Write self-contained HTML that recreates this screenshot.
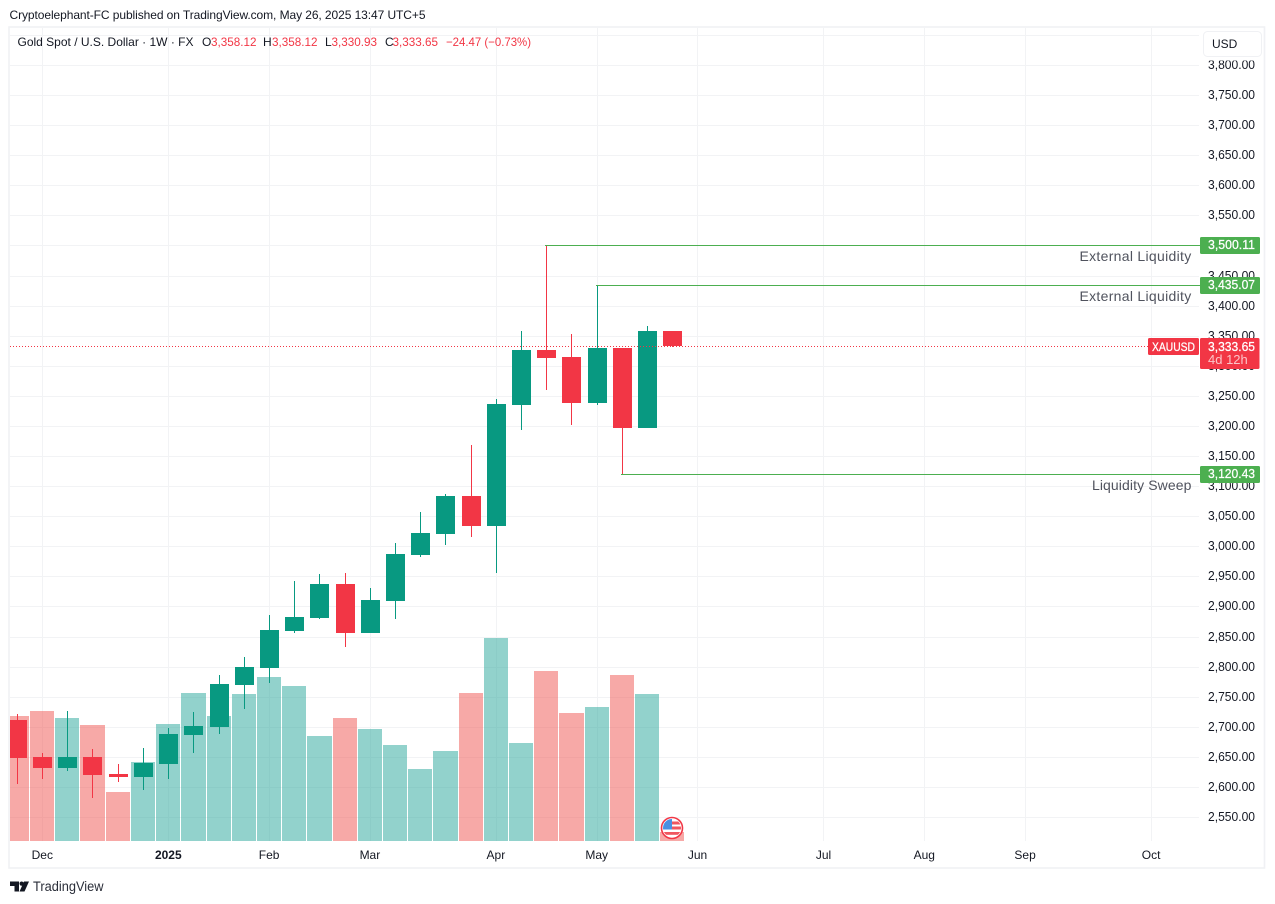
<!DOCTYPE html>
<html lang="en">
<head>
<meta charset="utf-8">
<title>Gold Spot / U.S. Dollar Weekly Chart</title>
<style>
html,body{margin:0;padding:0;background:#fff;width:1275px;height:904px;overflow:hidden}
svg{display:block}
text{font-family:"Liberation Sans",sans-serif;font-size:12px;fill:#131722}
</style>
</head>
<body>
<svg id="chart" width="1275" height="904" viewBox="0 0 1275 904" xmlns="http://www.w3.org/2000/svg">
  <defs>
    <clipPath id="pane-clip"><rect x="10" y="28" width="1189" height="813"/></clipPath>
    <clipPath id="flag-clip"><circle cx="672" cy="828" r="9"/></clipPath>
  </defs>
  <rect x="0" y="0" width="1275" height="904" fill="#ffffff"/>
  <text x="9.5" y="19" textLength="416" lengthAdjust="spacing" fill="#131722">Cryptoelephant-FC published on TradingView.com, May 26, 2025 13:47 UTC+5</text>
  <g id="grid"></g>
  <g id="volumes" clip-path="url(#pane-clip)"></g>
  <g id="candles" clip-path="url(#pane-clip)"></g>
  <g id="last-line"></g>
  <g id="levels"></g>
  <g id="y-axis"></g>
  <g id="x-axis"></g>
  <g id="level-labels"></g>
  <g id="last-label"></g>

  <rect x="9" y="27" width="1255.5" height="841" fill="none" stroke="#f0f1f4" stroke-width="1.6"/>

  <g>
    <text x="17.5" y="46" textLength="176" lengthAdjust="spacing">Gold Spot / U.S. Dollar · 1W · FX</text>
    <text x="202" y="46">O</text>
    <text x="211" y="46" textLength="45.5" lengthAdjust="spacingAndGlyphs" style="fill:#f23645">3,358.12</text>
    <text x="263" y="46">H</text>
    <text x="272" y="46" textLength="45.5" lengthAdjust="spacingAndGlyphs" style="fill:#f23645">3,358.12</text>
    <text x="325" y="46">L</text>
    <text x="331.5" y="46" textLength="45.5" lengthAdjust="spacingAndGlyphs" style="fill:#f23645">3,330.93</text>
    <text x="385" y="46">C</text>
    <text x="392.5" y="46" textLength="45.5" lengthAdjust="spacingAndGlyphs" style="fill:#f23645">3,333.65</text>
    <text x="446" y="46" textLength="85" lengthAdjust="spacingAndGlyphs" style="fill:#f23645">−24.47 (−0.73%)</text>
  </g>

  <rect x="1203" y="30" width="59" height="30.6" fill="#ffffff"/>
  <rect x="1203.5" y="31.5" width="58" height="25" rx="4" fill="#ffffff" stroke="#f0f1f4"/>
  <text x="1212" y="48">USD</text>

  <g>
    <circle cx="672" cy="828" r="10.5" fill="#ffffff" stroke="#f23645" stroke-width="1.6"/>
    <g clip-path="url(#flag-clip)">
      <rect x="662" y="818" width="20" height="20" fill="#ffffff"/>
      <rect x="672" y="821.5" width="10" height="3" fill="#f0565f"/>
      <rect x="672" y="826.5" width="10" height="3" fill="#f0565f"/>
      <rect x="662" y="832" width="20" height="2.8" fill="#f0565f"/>
      <rect x="662" y="818" width="10" height="11.5" fill="#4a90e2"/>
    </g>
  </g>

  <g>
    <path fill="#131722" d="M10 881.5h9v10h-4.5v-5.5H10zM24 881.5h5l-4.5 10h-5z"/>
    <circle cx="21.6" cy="883.6" r="2.1" fill="#131722"/>
    <text x="33" y="891" textLength="70.5" lengthAdjust="spacingAndGlyphs" style="font-size:13.5px;fill:#2a2e39">TradingView</text>
  </g>

<script>
// ---- Chart data ----
const weeks = ['Nov 25','Dec 02','Dec 09','Dec 16','Dec 23','Dec 30','Jan 06','Jan 13','Jan 20','Jan 27','Feb 03','Feb 10','Feb 17','Feb 24','Mar 03','Mar 10','Mar 17','Mar 24','Mar 31','Apr 07','Apr 14','Apr 21','Apr 28','May 05','May 12','May 19','May 26'];
const opens  = [2711.3,2649.8,2632.0,2649.8,2621.5,2617.0,2638.6,2686.8,2700.1,2770.0,2798.2,2859.7,2881.3,2937.3,2856.4,2909.6,2986.0,3021.0,3083.6,3034.2,3235.4,3326.3,3314.6,3238.7,3329.6,3197.1,3358.12];
const highs  = [2721.2,2656.4,2726.2,2663.0,2638.1,2664.7,2698.0,2724.6,2786.1,2816.0,2885.8,2942.3,2954.0,2955.6,2930.7,3005.5,3057.0,3086.9,3168.4,3244.8,3357.9,3500.11,3352.9,3435.07,3329.6,3366.2,3358.12];
const lows   = [2605.4,2613.7,2627.0,2582.1,2608.7,2595.4,2613.7,2656.9,2688.5,2729.5,2772.8,2856.4,2879.1,2832.6,2856.4,2879.1,2982.2,3002.7,3015.4,2956.1,3193.8,3260.3,3202.1,3235.0,3120.43,3197.1,3330.93];
const closes = [2648.6,2632.0,2649.8,2620.3,2617.0,2639.8,2688.0,2701.3,2771.1,2799.4,2860.9,2882.5,2937.3,2856.4,2910.7,2987.2,3022.1,3083.6,3034.2,3236.5,3326.3,3313.5,3238.7,3329.6,3197.1,3358.1,3333.65];
const volumes = [125,130,123,116,49,79,117,148,125,147,164,155,105,123,112,96,72,90,148,203,98,170,128,134,166,147,9];
const priceTicks = [2550,2600,2650,2700,2750,2800,2850,2900,2950,3000,3050,3100,3150,3200,3250,3300,3350,3400,3450,3500,3550,3600,3650,3700,3750,3800];
const gridOnlyTicks = [3850];
const monthLabels = ['Dec','2025','Feb','Mar','Apr','May','Jun','Jul','Aug','Sep','Oct'];
const monthWeekIndex = [1,6,10,14,19,23,27,32,36,40,45];
const levelPrices = [3500.11,3435.07,3120.43];
const levelWeekIndex = [21,23,24];
const levelTexts = ['External Liquidity','External Liquidity','Liquidity Sweep'];
const lastPrice = 3333.65;

// ---- Axis functions ----
function priceY(p){ return 65 + (3800 - p) * 0.6016; }
function weekX(i){ return 17.1 + 25.2 * i; }
function volumeH(v){ return v; }
function fmt(p){ return p.toLocaleString('en-US',{minimumFractionDigits:2,maximumFractionDigits:2}); }

const NS = 'http://www.w3.org/2000/svg';
function mk(tag, attrs, parent, txt){
  const el = document.createElementNS(NS, tag);
  for (const k in attrs) el.setAttribute(k, attrs[k]);
  if (txt !== undefined) el.textContent = txt;
  parent.appendChild(el);
  return el;
}
const $ = id => document.getElementById(id);
const COL_UP = '#089981', COL_DOWN = '#f23645', COL_LEVEL = '#4caf50', COL_GRID = '#f2f3f5';
const BASE_Y = 841;

// Grid
priceTicks.concat(gridOnlyTicks).forEach(p => {
  const y = Math.round(priceY(p));
  const el = mk('rect', {x:10, y:y, width:1189, height:1, fill:COL_GRID}, $('grid'));
  
  
});
monthWeekIndex.forEach(i => {
  const el = mk('rect', {x:Math.floor(weekX(i)+0.3), y:28, width:1, height:813, fill:COL_GRID}, $('grid'));
  
  
});

// Volume bars
volumes.forEach((v,i) => {
  const left = Math.floor(weekX(i)+0.3) - 12;
  const next = Math.floor(weekX(i+1)+0.3) - 12;
  const h = Math.round(volumeH(v));
  const up = closes[i] >= opens[i];
  const el = mk('rect', {x:left, y:BASE_Y-h, width:next-left-1, height:h, fill: up ? 'rgba(38,166,154,.5)' : 'rgba(239,83,80,.5)', 'shape-rendering':'crispEdges'}, $('volumes'));
  
  
});

// Candles
weeks.forEach((w,i) => {
  const cx = Math.floor(weekX(i)+0.3);
  const up = closes[i] >= opens[i];
  const color = up ? COL_UP : COL_DOWN;
  const g = mk('g', {}, $('candles'));
  
  
  const yH = Math.round(priceY(highs[i])), yL = Math.round(priceY(lows[i]));
  const wick = mk('rect', {x:cx, y:yH, width:1, height:Math.max(1,yL-yH), fill:color, 'shape-rendering':'crispEdges'}, g);
  
  
  const yT = Math.round(priceY(Math.max(opens[i],closes[i])));
  const yB = Math.round(priceY(Math.min(opens[i],closes[i])));
  const body = mk('rect', {x:cx-9, y:yT, width:19, height:Math.max(1,yB-yT), fill:color, 'shape-rendering':'crispEdges'}, g);
  
  
});

// Last price dotted line
const lastY = Math.round(priceY(lastPrice));
const dotted = mk('line', {x1:10, x2:1148, y1:lastY+0.5, y2:lastY+0.5, stroke:COL_DOWN, 'stroke-width':1, 'stroke-dasharray':'1 2'}, $('last-line'));



// Liquidity levels
levelPrices.forEach((p,k) => {
  const y = Math.round(priceY(p));
  const x0 = Math.floor(weekX(levelWeekIndex[k])+0.3) - 1;
  const line = mk('rect', {x:x0, y:y, width:1200-x0, height:1, fill:COL_LEVEL, 'shape-rendering':'crispEdges'}, $('levels'));
  
  
  const spacing = levelTexts[k].startsWith('External') ? '.3px' : '.1px';
  const t = mk('text', {x:1191.5, y:y+16, 'text-anchor':'end', style:'font-size:14px;fill:#50535e;letter-spacing:' + spacing}, $('levels'), levelTexts[k]);
  
  
});

// Price axis
priceTicks.forEach(p => {
  const t = mk('text', {x:1208, y:Math.round(priceY(p))+4, textLength:47, lengthAdjust:'spacingAndGlyphs', style:'font-size:13px'}, $('y-axis'), fmt(p));
  
  
});

// Time axis
monthLabels.forEach((m,k) => {
  const bold = m === '2025';
  const t = mk('text', {x:weekX(monthWeekIndex[k]), y:859, 'text-anchor':'middle', 'font-weight': bold ? 'bold' : 'normal'}, $('x-axis'), m);
  
  
});

// Level price labels
levelPrices.forEach(p => {
  const y = Math.round(priceY(p));
  const r = mk('rect', {x:1200, y:y-8, width:60, height:17, rx:1.5, fill:COL_LEVEL}, $('level-labels'));
  
  
  const t = mk('text', {x:1208, y:y+4, textLength:47, lengthAdjust:'spacingAndGlyphs', style:'font-size:13px;fill:#ffffff;stroke:#ffffff;stroke-width:.25'}, $('level-labels'), fmt(p));
  
  
});

// Last price labels
const symBg = mk('rect', {x:1148, y:lastY-8, width:51, height:17, rx:1.5, fill:COL_DOWN}, $('last-label'));


const symTx = mk('text', {x:1152, y:lastY+5, textLength:43, lengthAdjust:'spacingAndGlyphs', style:'fill:#ffffff;stroke:#ffffff;stroke-width:.25;font-size:12px'}, $('last-label'), 'XAUUSD');


const lpBg = mk('rect', {x:1200, y:lastY-8, width:59.5, height:31, rx:1.5, fill:COL_DOWN}, $('last-label'));


const lpTx = mk('text', {x:1208, y:lastY+5, textLength:47, lengthAdjust:'spacingAndGlyphs', style:'font-size:13px;fill:#ffffff;stroke:#ffffff;stroke-width:.25'}, $('last-label'), fmt(lastPrice));


const cdTx = mk('text', {x:1208, y:lastY+18, style:'fill:#fbc4c8;font-size:13px'}, $('last-label'), '4d 12h');


</script>
</svg>
</body>
</html>
